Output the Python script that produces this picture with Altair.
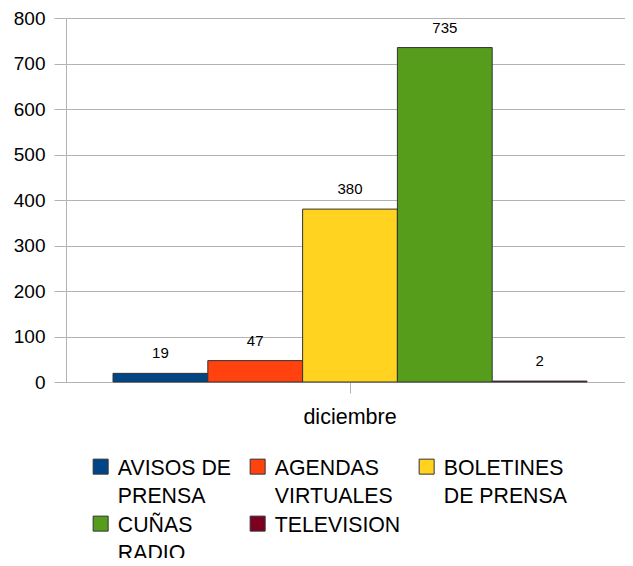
import altair as alt
import pandas as pd

month = ["diciembre"] * 5
series = ["AVISOS DE\nPRENSA", "AGENDAS\nVIRTUALES", "BOLETINES\nDE PRENSA", "CUÑAS\nRADIO", "TELEVISION"]
values = [19, 47, 380, 735, 2]
colors = ["#004586", "#ff420e", "#ffd320", "#579d1c", "#7e0021"]
y_ticks = [0, 100, 200, 300, 400, 500, 600, 700, 800]

df = pd.DataFrame({"mes": month, "serie": series, "valor": values})

FONT = "Liberation Sans"
GRID = "#b3b3b3"

x_enc = alt.X("mes:N", title=None,
              scale=alt.Scale(paddingOuter=0.0897, paddingInner=0, align=0.553),
              axis=alt.Axis(labelAngle=0, domain=False, ticks=True, tickSize=11,
                            tickColor=GRID, labelFontSize=21.5, labelFont=FONT,
                            labelColor="#000000", labelPadding=13, grid=False))
xo_enc = alt.XOffset("serie:N", sort=series,
                     scale=alt.Scale(paddingInner=0, paddingOuter=0))
y_enc = alt.Y("valor:Q", title=None,
              scale=alt.Scale(domain=[0, 800], nice=False),
              axis=alt.Axis(values=y_ticks, tickSize=12, tickColor=GRID,
                            domainColor=GRID, gridColor=GRID,
                            labelFontSize=19, labelFont=FONT, labelColor="#000000",
                            labelPadding=9))

bars = alt.Chart(df).mark_bar(stroke="#333333", strokeWidth=1).encode(
    x=x_enc,
    xOffset=xo_enc,
    y=y_enc,
    color=alt.Color("serie:N", sort=series,
                    scale=alt.Scale(domain=series, range=colors),
                    legend=alt.Legend(title=None, orient="none", legendX=24, legendY=446,
                                      direction="horizontal", columns=3,
                                      symbolType="M-1,-2.07H1V-0.07H-1Z", symbolSize=225,
                                      symbolStrokeColor="#333333", symbolStrokeWidth=1,
                                      labelFontSize=21.3, labelFont=FONT, labelColor="#000000",
                                      labelOffset=6.5, columnPadding=15, rowPadding=7,
                                      labelLimit=200, padding=0, labelBaseline="alphabetic",
                                      labelExpr="split(datum.label, '\\n')")),
)

labels = alt.Chart(df).mark_text(fontSize=15, font=FONT, color="#000000",
                                 baseline="middle", dy=-20).encode(
    x=alt.X("mes:N"),
    xOffset=alt.XOffset("serie:N", sort=series),
    y=alt.Y("valor:Q"),
    text=alt.Text("valor:Q"),
)

chart = alt.layer(bars, labels).properties(
    width=559, height=364,
    autosize=alt.AutoSizeParams(type="none"),
    padding={"left": 58, "top": 10, "right": 0, "bottom": 176},
).configure_view(stroke=None).configure(
    style={"guide-label": {"lineHeight": 28}}
)

chart.save("out.html", embed_options={"renderer": "svg", "actions": False})
